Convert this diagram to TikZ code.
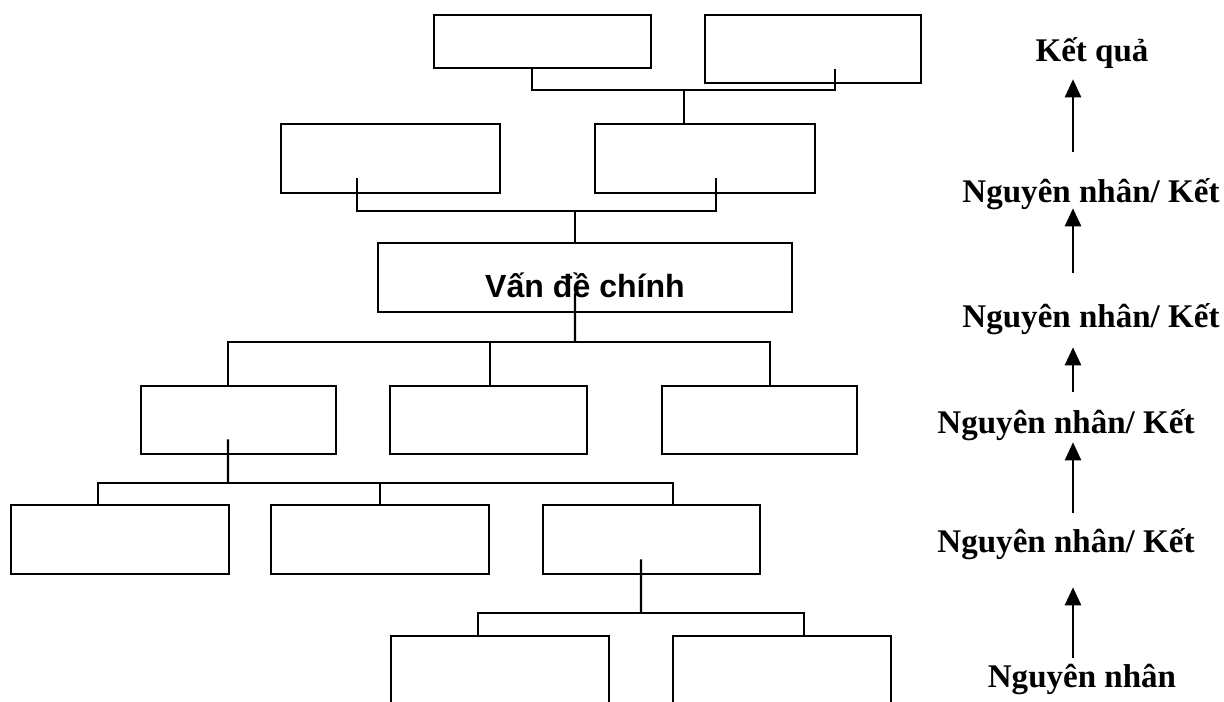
\documentclass[tikz,border=0pt]{standalone}
\usepackage{fontspec}
\setmainfont{Liberation Serif}
\newfontfamily\boxfont{Liberation Sans}
\usetikzlibrary{arrows.meta, positioning, calc}

\begin{document}
\begin{tikzpicture}[x=0.025cm, y=-0.025cm, >={Triangle[length=0.45cm, width=0.4cm]},
    blank-box/.style={rectangle, draw=black, line width=1.8pt, inner sep=0pt, minimum height=1.725cm},
    link/.style={draw=black, line width=1.5pt},
    level-text/.style={font=\fontsize{23.5}{28}\selectfont\bfseries, inner sep=0pt, anchor=base, text height=0.55cm, text depth=0pt},
    up-arrow/.style={->, line width=1.8pt}]
    \useasboundingbox (0,0) rectangle (1224,702);
    \clip (0,0) rectangle (1224,702);

    % tree of boxes
    \node [blank-box, minimum width=5.425cm, minimum height=1.325cm] (res-left) at (542.5,41.5) {};
    \node [blank-box, minimum width=5.4cm, minimum height=1.7cm] (res-right) at (813,49) {};
    \node [blank-box, minimum width=5.475cm] (mid-left) at (390.5,158.5) {};
    \node [blank-box, minimum width=5.5cm] (mid-right) at (705,158.5) {};
    \node [blank-box, minimum width=10.35cm, minimum height=0pt, text height=1.375cm, text depth=0.35cm, anchor=base,
           font=\boxfont\fontsize{22.8}{27}\selectfont\bfseries] (main) at (585,298) {Vấn đề chính};
    \node [blank-box, minimum width=4.875cm, minimum height=1.7cm] (cause-1) at (238.5,420) {};
    \node [blank-box, minimum width=4.925cm, minimum height=1.7cm] (cause-2) at (488.5,420) {};
    \node [blank-box, minimum width=4.875cm, minimum height=1.7cm] (cause-3) at (759.5,420) {};
    \node [blank-box, minimum width=5.45cm] (sub-1) at (120,539.5) {};
    \node [blank-box, minimum width=5.45cm] (sub-2) at (380,539.5) {};
    \node [blank-box, minimum width=5.425cm] (sub-3) at (651.5,539.5) {};
    \node [blank-box, minimum width=5.45cm, minimum height=1.8cm] (root-1) at (500,672) {};
    \node [blank-box, minimum width=5.45cm, minimum height=1.8cm] (root-2) at (782,672) {};

    \coordinate (bus-1) at (684,90);
    \coordinate (bus-2) at (575,211);
    \coordinate (bus-3) at (575,342);
    \coordinate (bus-4) at (228,483);
    \coordinate (bus-5) at (641,613);

    \draw [link] ([xshift=-0.2625cm]res-left.south) |- (bus-1) -| ([xshift=0.55cm, yshift=0.375cm]res-right.south);
    \draw [link] (bus-1) -- (bus-1 |- mid-right.north);
    \draw [link] ([xshift=-0.8375cm, yshift=0.4cm]mid-left.south) |- (bus-2) -| ([xshift=0.275cm, yshift=0.4cm]mid-right.south);
    \draw [link] (bus-2) -- (bus-2 |- main.north);
    \draw [link] ([xshift=-0.25cm, yshift=0.5cm]main.south) -- (bus-3);
    \draw [link] ([xshift=-0.2625cm]cause-1.north) |- (bus-3) -| ([xshift=0.2625cm]cause-3.north);
    \draw [link] ([xshift=0.0375cm]cause-2.north) -- ([xshift=0.0375cm]cause-2.north |- bus-3);
    \draw [link] ([xshift=-0.2625cm, yshift=0.4cm]cause-1.south) -- (bus-4);
    \draw [link] ([xshift=-0.55cm]sub-1.north) |- (bus-4) -| ([xshift=0.5375cm]sub-3.north);
    \draw [link] (sub-2.north) -- (sub-2.north |- bus-4);
    \draw [link] ([xshift=-0.2625cm, yshift=0.4cm]sub-3.south) -- (bus-5);
    \draw [link] ([xshift=-0.55cm]root-1.north) |- (bus-5) -| ([xshift=0.55cm]root-2.north);

    % chain of causes on the right
    \node [level-text] (lbl-kq) at (1092,62) {Kết quả};
    \node [level-text] (lbl-1) at (1091,203) {Nguyên nhân/ Kết};
    \node [level-text] (lbl-2) at (1091,327) {Nguyên nhân/ Kết};
    \node [level-text] (lbl-3) at (1066,433) {Nguyên nhân/ Kết};
    \node [level-text] (lbl-4) at (1066,552) {Nguyên nhân/ Kết};
    \node [level-text] (lbl-nn) at (1082,687) {Nguyên nhân};
    \coordinate (axis) at (1073,0);

    \draw [up-arrow, shorten <=0.725cm, shorten >=0.425cm] (lbl-1.north -| axis) -- (lbl-kq.south -| axis);
    \draw [up-arrow, shorten <=0.8cm, shorten >=0.125cm] (lbl-2.north -| axis) -- (lbl-1.south -| axis);
    \draw [up-arrow, shorten <=0.475cm, shorten >=0.5cm] (lbl-3.north -| axis) -- (lbl-2.south -| axis);
    \draw [up-arrow, shorten <=0.425cm, shorten >=0.225cm] (lbl-4.north -| axis) -- (lbl-3.south -| axis);
    \draw [up-arrow, shorten <=0.175cm, shorten >=0.875cm] (lbl-nn.north -| axis) -- (lbl-4.south -| axis);
\end{tikzpicture}
\end{document}
